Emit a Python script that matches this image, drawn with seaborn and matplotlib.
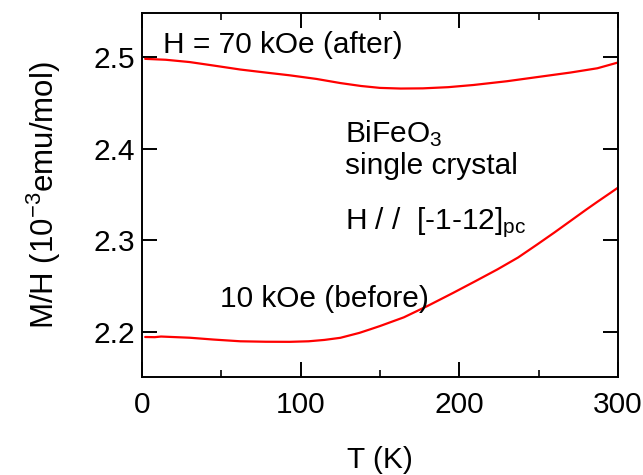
import numpy as np
import pandas as pd
import matplotlib
matplotlib.use("Agg")
import matplotlib.pyplot as plt
import seaborn as sns
from matplotlib.ticker import MultipleLocator

# ---- data ----
T_after = [2, 15, 30, 45, 62, 78, 93, 110, 125, 138, 150, 163, 177, 193, 209, 230, 251, 270, 287, 300]
M_after = [2.4985, 2.4975, 2.4950, 2.4912, 2.4868, 2.4835, 2.4805, 2.4765, 2.4720, 2.4688,
           2.4667, 2.4660, 2.4662, 2.4675, 2.4699, 2.4740, 2.4790, 2.4835, 2.4882, 2.4945]

T_before = [2, 8, 12, 30, 45, 62, 78, 93, 105, 115, 125, 137, 144, 150, 165, 180, 196,
            210, 224, 237, 249, 260, 270, 280, 287, 295, 300]
M_before = [2.1940, 2.1938, 2.1945, 2.1932, 2.1912, 2.1893, 2.1888, 2.1887, 2.1893, 2.1908,
            2.1931, 2.1985, 2.2025, 2.2060, 2.2155, 2.2280, 2.2422, 2.2550, 2.2680, 2.2810,
            2.2952, 2.3085, 2.3210, 2.3335, 2.3420, 2.3515, 2.3575]

x_ticks = [0, 100, 200, 300]
y_ticks = [2.2, 2.3, 2.4, 2.5]

label_after = "H = 70 kOe (after)"
label_before = "10 kOe (before)"
sample_lines = ["BiFeO$_3$", "single crystal", "H / /  [-1-12]$_{\\mathrm{pc}}$"]

# ---- style ----
sns.set_style("ticks")
plt.rcParams["font.family"] = ["Liberation Sans", "DejaVu Sans"]
plt.rcParams["mathtext.fontset"] = "custom"
plt.rcParams["mathtext.rm"] = "Liberation Sans"
plt.rcParams["mathtext.it"] = "Liberation Sans:italic"
plt.rcParams["mathtext.default"] = "regular"
plt.rcParams["text.color"] = "black"
plt.rcParams["axes.labelcolor"] = "black"

FS = 21.5
fig = plt.figure(figsize=(6.43, 4.75), dpi=100)
ax = fig.add_axes([142 / 643, 1 - 377 / 475, 476 / 643, 364 / 475])

df_a = pd.DataFrame({"T": T_after, "M": M_after})
df_b = pd.DataFrame({"T": T_before, "M": M_before})
sns.lineplot(data=df_a, x="T", y="M", color="#ff0000", lw=1.6, sort=False, estimator=None, ax=ax)
sns.lineplot(data=df_b, x="T", y="M", color="#ff0000", lw=1.6, sort=False, estimator=None, ax=ax)

ax.set_xlim(0, 300)
ax.set_ylim(2.1502, 2.5487)
ax.set_xticks(x_ticks)
ax.set_xticklabels([str(v) for v in x_ticks])
ax.set_yticks(y_ticks)
ax.set_yticklabels([f"{v:.1f}" for v in y_ticks])
ax.xaxis.set_minor_locator(MultipleLocator(50))

for s in ax.spines.values():
    s.set_visible(True)
    s.set_linewidth(1.4)
    s.set_color("black")

ax.tick_params(axis="both", which="major", direction="in", length=10.5, width=1.4,
               top=True, right=True, labelsize=FS, color="black", labelcolor="black")
ax.tick_params(axis="x", which="major", pad=10)
ax.tick_params(axis="y", which="major", pad=5)
ax.tick_params(axis="x", which="minor", direction="in", length=5, width=1.4, top=True, bottom=True)

ax.set_xlabel("T (K)", fontsize=FS)
ax.set_ylabel("M/H (10$^{-3}$emu/mol)", fontsize=22.5)
ax.xaxis.set_label_coords(0.5, (377 - 446) / 364)
ax.yaxis.set_label_coords((63 - 142) / 476, 0.5)

ax.text(13.2, 2.5046, label_after, fontsize=FS, va="baseline", ha="left")
ax.text(49.1, 2.2265, label_before, fontsize=FS, va="baseline", ha="left")
for txt, yv in zip(sample_lines, [2.4078, 2.3724, 2.3115]):
    ax.text(128, yv, txt, fontsize=FS, va="baseline", ha="left")

ax.grid(False)
fig.savefig("out.png", dpi=100)
